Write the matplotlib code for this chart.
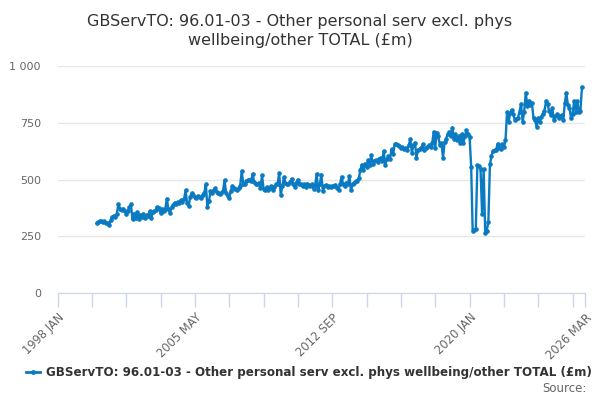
import pandas as pd
import matplotlib
matplotlib.use("Agg")
import matplotlib.pyplot as plt

# valores mensuales (£m), desde 2000 FEB
v2000 = [307, 312, 318, 316, 312, 315, 308, 310, 300, 320, 335]
v2001 = [340, 336, 348, 392, 372, 366, 372, 360, 350, 362, 378, 390]
v2002 = [325, 350, 330, 355, 325, 345, 335, 350, 330, 345, 340, 360]
v2003 = [330, 355, 360, 365, 378, 375, 352, 370, 360, 368, 415, 372]
v2004 = [352, 378, 388, 398, 392, 402, 395, 408, 400, 412, 452, 395]
v2005 = [385, 425, 440, 430, 425, 420, 428, 425, 418, 433, 440, 478]
v2006 = [380, 405, 448, 440, 455, 462, 445, 440, 438, 442, 448, 497]
v2007 = [440, 428, 420, 448, 472, 462, 458, 452, 462, 472, 537, 482]
v2008 = [478, 492, 498, 500, 492, 525, 488, 478, 480, 485, 462, 518]
v2009 = [458, 455, 466, 455, 462, 470, 455, 468, 478, 482, 527, 432]
v2010 = [470, 510, 485, 478, 482, 490, 503, 480, 468, 485, 500, 478]
v2011 = [480, 472, 478, 468, 482, 475, 470, 478, 460, 470, 525, 455]
v2012 = [478, 522, 448, 470, 475, 468, 472, 465, 472, 470, 476, 462]
v2013 = [455, 482, 512, 478, 470, 486, 478, 515, 452, 480, 486, 492]
v2014 = [495, 505, 540, 566, 542, 570, 555, 585, 565, 606, 570, 580]
v2015 = [585, 575, 592, 596, 580, 625, 566, 590, 602, 590, 633, 612]
v2016 = [655, 656, 652, 648, 640, 642, 635, 640, 630, 650, 677, 618]
v2017 = [650, 662, 596, 630, 635, 640, 655, 630, 640, 642, 650, 645]
v2018 = [660, 710, 640, 707, 690, 650, 660, 596, 665, 680, 700, 710]
v2019 = [690, 729, 680, 700, 672, 692, 662, 700, 660, 690, 716, 700]
v2020 = [687, 557, 275, 278, 280, 564, 560, 548, 350, 545, 265, 275]
v2021 = [313, 567, 602, 627, 628, 630, 657, 640, 635, 657, 645, 672]
v2022 = [796, 754, 792, 807, 790, 762, 768, 772, 799, 832, 754, 799]
v2023 = [882, 822, 847, 830, 836, 769, 762, 732, 769, 754, 777, 790]
v2024 = [802, 847, 832, 800, 784, 814, 762, 780, 787, 772, 778, 784]
v2025 = [762, 836, 882, 829, 817, 772, 790, 844, 799, 844, 799, 802]
v2026 = [907]

valores = (v2000 + v2001 + v2002 + v2003 + v2004 + v2005 + v2006 + v2007 +
           v2008 + v2009 + v2010 + v2011 + v2012 + v2013 + v2014 + v2015 +
           v2016 + v2017 + v2018 + v2019 + v2020 + v2021 + v2022 + v2023 +
           v2024 + v2025 + v2026)
fechas = pd.date_range("2000-02-01", periods=len(valores), freq="MS")

titulo = "GBServTO: 96.01-03 - Other personal serv excl. phys\nwellbeing/other TOTAL (£m)"
serie = "GBServTO: 96.01-03 - Other personal serv excl. phys wellbeing/other TOTAL (£m)"
y_ticks = [0, 250, 500, 750, 1000]
y_labels = ["0", "250", "500", "750", "1 000"]
x_ticks = list(pd.date_range("1998-01-01", periods=16, freq="22MS")) + [pd.Timestamp("2026-03-01")]
x_labels = ["1998 JAN", "2005 MAY", "2012 SEP", "2020 JAN", "2026 MAR"]

azul = "#0a7bc2"
gris = "#666666"

fig = plt.figure(figsize=(6, 4), dpi=100)
ax = fig.add_axes([0.096, 0.2675, 0.879, 0.5675])

ax.plot(fechas, valores, color=azul, lw=1.7, marker="o", ms=2.3, zorder=3)

ax.set_ylim(0, 1000)
ax.set_xlim(pd.Timestamp("1998-01-01"), pd.Timestamp("2026-03-01"))
ax.set_yticks(y_ticks)
ax.set_yticklabels(y_labels, color=gris, fontsize=8)
ax.set_xticks(x_ticks)
etiquetas = [""] * len(x_ticks)
for i, lab in zip([0, 4, 8, 12, 16], x_labels):
    etiquetas[i] = lab
ax.set_xticklabels(etiquetas, rotation=45, ha="right", rotation_mode="anchor",
                   color=gris, fontsize=8.3)

ax.grid(axis="y", color="#e6e6e6", lw=1)
ax.set_axisbelow(True)
for lado in ["top", "right", "left"]:
    ax.spines[lado].set_visible(False)
ax.spines["bottom"].set_color("#ccd6eb")
ax.tick_params(axis="x", color="#ccd6eb", length=10, width=1, pad=3)
ax.tick_params(axis="y", length=0, pad=12)

fig.text(0.5, 0.965, titulo, ha="center", va="top", fontsize=11.5,
         color="#333333", linespacing=1.3)

fig.legend([plt.Line2D([], [], color=azul, lw=2, marker="o", ms=2.5)], [serie],
           loc="center", bbox_to_anchor=(0.515, 0.068), frameon=False,
           handlelength=1.2, handletextpad=0.5,
           prop={"weight": "bold", "size": 8.6}, labelcolor="#333333")
fig.text(0.978, 0.012, "Source:", ha="right", va="bottom", color=gris, fontsize=8.5)

fig.savefig("out.png", dpi=100)
